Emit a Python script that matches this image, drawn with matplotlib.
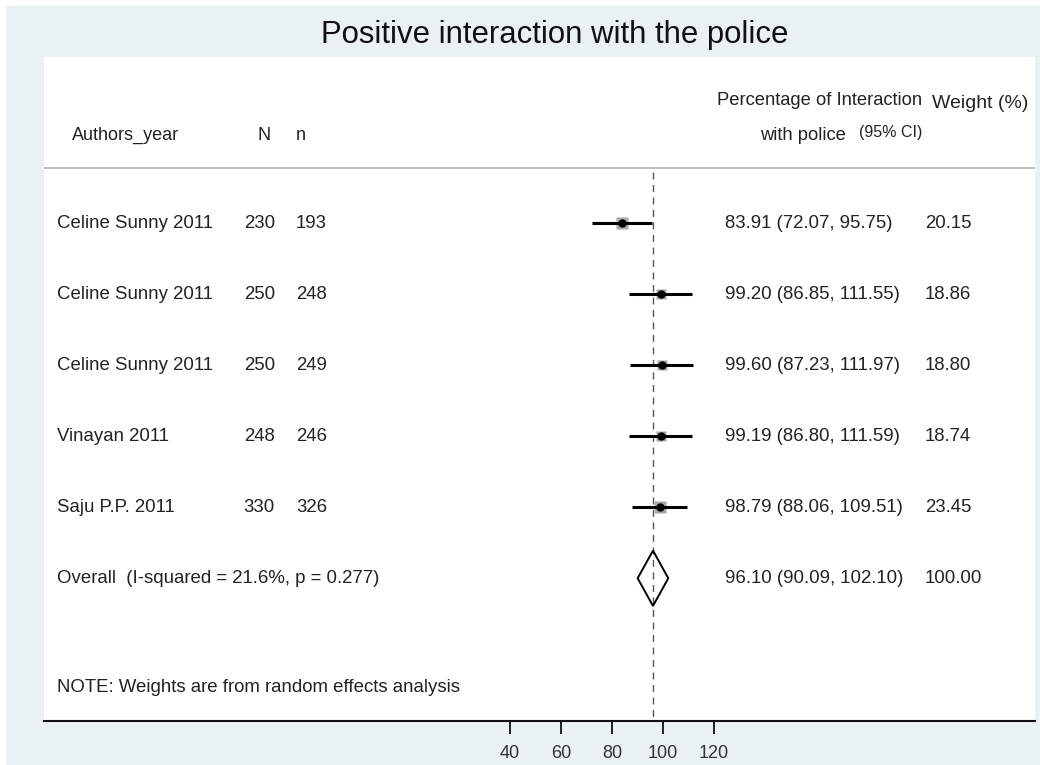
import numpy as np
import matplotlib
matplotlib.use('Agg')
import matplotlib.pyplot as plt
from matplotlib.patches import Rectangle, Polygon

plt.rcParams['font.family'] = ['Liberation Sans', 'DejaVu Sans']

## data
authors = ['Celine Sunny 2011', 'Celine Sunny 2011', 'Celine Sunny 2011',
           'Vinayan 2011', 'Saju P.P. 2011']
N = [230, 250, 250, 248, 330]
n = [193, 248, 249, 246, 326]
es = [83.91, 99.20, 99.60, 99.19, 98.79]
lo = [72.07, 86.85, 87.23, 86.80, 88.06]
hi = [95.75, 111.55, 111.97, 111.59, 109.51]
weight = [20.15, 18.86, 18.80, 18.74, 23.45]
ov_es, ov_lo, ov_hi, ov_w = 96.10, 90.09, 102.10, 100.00
i2, pval = 21.6, 0.277
xticks = [40, 60, 80, 100, 120]

title = 'Positive interaction with the police'
note = 'NOTE: Weights are from random effects analysis'

txt = '#222222'
bg = '#e9f1f3'

fig = plt.figure(figsize=(10.4, 7.65), dpi=100, facecolor='white')
fig.patches.append(Rectangle((6/1040, 0), 1, (765-6)/765, transform=fig.transFigure,
                             facecolor=bg, edgecolor='none', zorder=-10))

ax = fig.add_axes([44/1040, 44/765, 991/1040, 664/765])
ax.set_facecolor('white')
ax.set_xlim(-142.7, 245.9)
ax.set_ylim(7.01, -2.34)

for s in ['top', 'left', 'right']:
    ax.spines[s].set_visible(False)
ax.spines['bottom'].set_linewidth(1.5)
ax.spines['bottom'].set_color('#111111')
ax.set_yticks([])
ax.set_xticks(xticks)
ax.tick_params(axis='x', direction='out', length=9, width=1.3, pad=8,
               labelsize=13, labelcolor='#333333', color='#111111')

tr = ax.get_yaxis_transform()
fs = 13.4

# header
ax.axhline(-0.775, color='#b0b0b0', lw=1.2)
ax.text(0.0283, -1.24, 'Authors_year', transform=tr, fontsize=13, color=txt, va='center')
ax.text(0.2290, -1.24, 'N', transform=tr, fontsize=13, color=txt, va='center', ha='right')
ax.text(0.2543, -1.24, 'n', transform=tr, fontsize=13, color=txt, va='center')
ax.text(0.886, -1.73, 'Percentage of Interaction', transform=tr, fontsize=13.2, color=txt,
        va='center', ha='right')
ax.text(0.809, -1.24, 'with police', transform=tr, fontsize=13.2, color=txt,
        va='center', ha='right')
ax.text(0.886, -1.28, '(95% CI)', transform=tr, fontsize=11.5, color=txt,
        va='center', ha='right')
ax.text(0.896, -1.69, 'Weight (%)', transform=tr, fontsize=14, color=txt, va='center')

# reference line at overall estimate
ax.plot([ov_es, ov_es], [-0.72, 7.01], color='#555555', lw=1, ls=(0, (5, 4)), zorder=1)

rows = np.arange(len(authors))
for i in rows:
    ax.plot([lo[i], hi[i]], [i, i], color='black', lw=2.2, solid_capstyle='butt', zorder=3)
    ax.plot(es[i], i, marker='s', color='#a8a8a8', ms=np.sqrt(weight[i]) * 1.8,
            mec='none', zorder=2)
    ax.plot(es[i], i, marker='o', color='black', ms=5, zorder=4)
    ax.text(0.0131, i, authors[i], transform=tr, fontsize=fs, color=txt, va='center')
    ax.text(0.2331, i, str(N[i]), transform=tr, fontsize=fs, color=txt, va='center', ha='right')
    ax.text(0.2543, i, str(n[i]), transform=tr, fontsize=fs, color=txt, va='center')
    ax.text(0.6872, i, '%.2f (%.2f, %.2f)' % (es[i], lo[i], hi[i]), transform=tr,
            fontsize=fs, color=txt, va='center')
    ax.text(0.889, i, '%.2f' % weight[i], transform=tr, fontsize=fs, color=txt, va='center')

# overall diamond
yo = len(authors)
ax.add_patch(Polygon([[ov_lo, yo], [ov_es, yo - 0.39], [ov_hi, yo], [ov_es, yo + 0.39]],
                     closed=True, facecolor='none', edgecolor='black', lw=1.4, zorder=3))
ax.text(0.0131, yo, 'Overall  (I-squared = %.1f%%, p = %.3f)' % (i2, pval), transform=tr,
        fontsize=fs, color=txt, va='center')
ax.text(0.6872, yo, '%.2f (%.2f, %.2f)' % (ov_es, ov_lo, ov_hi), transform=tr,
        fontsize=fs, color=txt, va='center')
ax.text(0.889, yo, '%.2f' % ov_w, transform=tr, fontsize=fs, color=txt, va='center')

ax.text(0.0131, 6.54, note, transform=tr, fontsize=fs, color=txt, va='center')

fig.text(555/1040, 1 - 35/765, title, ha='center', va='center', fontsize=22.4, color='#111111')

fig.savefig('out.png', dpi=100, facecolor=fig.get_facecolor())
